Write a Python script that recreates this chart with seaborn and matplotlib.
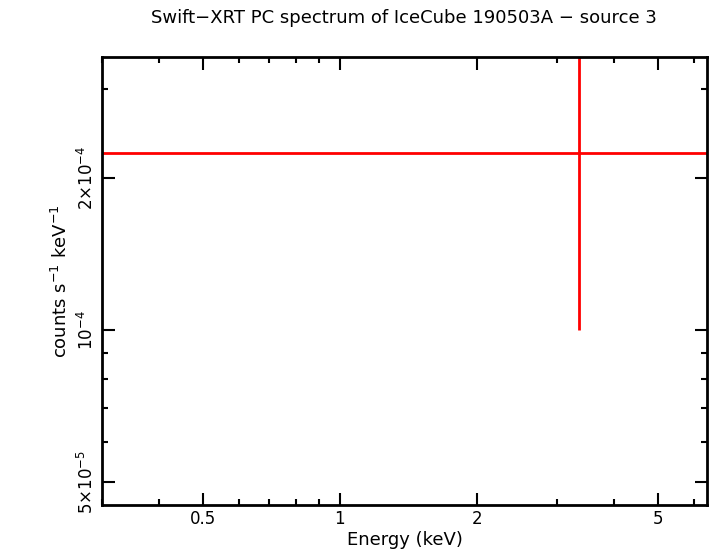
import matplotlib
matplotlib.use("Agg")
import matplotlib.pyplot as plt
import matplotlib.ticker as mticker
import seaborn as sns

energy = [3.35]
energy_lo = [0.25]
energy_hi = [8.0]
rate = [2.24e-4]
rate_lo = [1.0e-4]
rate_hi = [5.0e-4]

sns.set_style("white")
plt.rcParams["text.color"] = "black"
plt.rcParams["axes.labelcolor"] = "black"
plt.rcParams["xtick.color"] = "black"
plt.rcParams["ytick.color"] = "black"
fig = plt.figure(figsize=(7.1, 5.56), dpi=100)
ax = fig.add_axes([102/710, 1-505/556, (707-102)/710, (505-57)/556])

xerr = [[e - l for e, l in zip(energy, energy_lo)], [h - e for e, h in zip(energy, energy_hi)]]
yerr = [[r - l for r, l in zip(rate, rate_lo)], [h - r for r, h in zip(rate, rate_hi)]]
ax.errorbar(energy, rate, xerr=xerr, yerr=yerr, fmt="none", ecolor="red", elinewidth=2, capsize=0)
sns.lineplot(x=energy, y=rate, ax=ax, color="red", linewidth=0)

ax.set_xscale("log"); ax.set_yscale("log")
ax.set_xlim(0.30, 6.41); ax.set_ylim(4.5e-5, 3.47e-4)
ax.set_xticks([0.5, 1, 2, 5]); ax.set_xticklabels(["0.5", "1", "2", "5"])
ax.set_yticks([5e-5, 1e-4, 2e-4])
ax.set_yticklabels(["5×10$^{-5}$", "10$^{-4}$", "2×10$^{-4}$"], rotation=90, va="center")
ax.xaxis.set_minor_formatter(mticker.NullFormatter())
ax.yaxis.set_minor_formatter(mticker.NullFormatter())
ax.tick_params(which="both", direction="in", top=True, right=True, left=True, bottom=True,
               labelsize=12, width=1.5)
ax.tick_params(which="major", length=9)
ax.tick_params(which="minor", length=4)
for s in ax.spines.values():
    s.set_linewidth(2); s.set_color("black")
ax.set_xlabel("Energy (keV)", fontsize=13, labelpad=2)
ax.set_ylabel("counts s$^{-1}$ keV$^{-1}$", fontsize=13)
fig.text(404/710, 1-18/556, "Swift−XRT PC spectrum of IceCube 190503A − source 3",
         fontsize=13, ha="center", va="center")
fig.savefig("out.png", dpi=100)
